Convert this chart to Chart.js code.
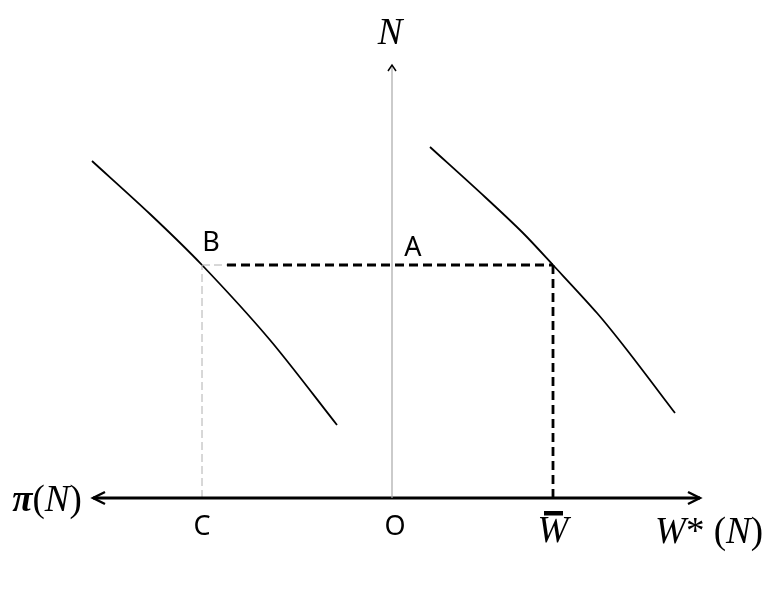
<!DOCTYPE html>
<html>
<head>
<meta charset="utf-8">
<script src="https://cdn.jsdelivr.net/npm/chart.js@4"></script>
<style>
  html, body { margin: 0; padding: 0; background: #fff; }
  #wrap { width: 778px; height: 589px; }
</style>
</head>
<body>
<div id="wrap"><canvas id="chart" width="778" height="589"></canvas></div>
<script>
(function () {
  // curves, in units measured from O (right = +x, up = +y)
  const leftCurveX = [-300, -242, -190, -122, -55];
  const leftCurveY = [337, 284, 233, 158, 73];
  const rightCurveX = [38, 93, 131, 161, 205, 235, 283];
  const rightCurveY = [351, 301, 265, 233, 185, 148, 85];

  // key levels
  const levelN = 233; // height of B and A
  const pointC = -190;
  const wageBar = 161;
  const axisLeft = -299;
  const axisRight = 308;
  const axisTop = 433;

  const toPoints = (xs, ys) => xs.map((x, i) => ({ x: x, y: ys[i] }));

  const IT = 'italic 37px "Liberation Serif"';
  const UP = '37px "Liberation Serif"';
  const SANS = '27px "Noto Sans"';

  // each label: list of [text, font] pieces, centred on x,y
  const labels = [
    { parts: [['N', IT]], x: -2, y: 464 },
    { parts: [['B', SANS]], x: -181, y: 255 },
    { parts: [['A', SANS]], x: 21, y: 250 },
    { parts: [['π', 'italic bold 37px "Liberation Serif"'], ['(', UP], ['N', IT], [')', UP]], x: -345, y: -3 },
    { parts: [['C', SANS]], x: -190, y: -29 },
    { parts: [['O', SANS]], x: 3, y: -29 },
    { parts: [['W', IT]], x: 161, y: -34 },
    { parts: [['W', IT], ['*', UP], [' (', UP], ['N', IT], [')', UP]], x: 317, y: -35 },
  ];

  const chevron = (ctx, x, y, dx, dy, len, half) => {
    const px = -dy, py = dx;
    ctx.beginPath();
    ctx.moveTo(x - dx * len + px * half, y - dy * len + py * half);
    ctx.lineTo(x, y);
    ctx.lineTo(x - dx * len - px * half, y - dy * len - py * half);
    ctx.stroke();
  };

  const drawLabel = (ctx, label, cx, cy) => {
    let total = 0;
    label.parts.forEach((p) => {
      ctx.font = p[1];
      total += ctx.measureText(p[0]).width;
    });
    let x = cx - total / 2;
    label.parts.forEach((p) => {
      ctx.font = p[1];
      ctx.fillText(p[0], x, cy);
      x += ctx.measureText(p[0]).width;
    });
  };

  const decorations = {
    id: 'decorations',
    afterDatasetsDraw(chart) {
      const ctx = chart.ctx;
      const xs = chart.scales.x;
      const ys = chart.scales.y;
      ctx.save();
      ctx.strokeStyle = '#000';
      ctx.lineWidth = 2.4;
      chevron(ctx, xs.getPixelForValue(axisLeft), ys.getPixelForValue(0), -1, 0, 12, 6);
      chevron(ctx, xs.getPixelForValue(axisRight), ys.getPixelForValue(0), 1, 0, 12, 6);
      ctx.lineWidth = 1.5;
      chevron(ctx, xs.getPixelForValue(0), ys.getPixelForValue(axisTop), 0, -1, 6, 4);

      ctx.fillStyle = '#000';
      ctx.textAlign = 'left';
      ctx.textBaseline = 'middle';
      labels.forEach((l) => {
        drawLabel(ctx, l, xs.getPixelForValue(l.x), ys.getPixelForValue(l.y));
      });
      // bar over W
      const bx = xs.getPixelForValue(wageBar);
      const by = ys.getPixelForValue(-15);
      ctx.fillRect(bx - 9, by - 2, 19, 4.5);
      ctx.restore();
    },
  };

  const line = (data, color, width, dash) => ({
    data: data,
    showLine: true,
    borderColor: color,
    borderWidth: width,
    borderDash: dash || [],
    pointRadius: 0,
    tension: 0,
  });

  const curve = (data) => Object.assign(line(data, '#000', 1.8), { tension: 0.3 });

  new Chart(document.getElementById('chart'), {
    type: 'scatter',
    data: {
      datasets: [
        line([{ x: 0, y: 0 }, { x: 0, y: axisTop }], '#a8a8a8', 1.2),
        line([{ x: axisLeft, y: 0 }, { x: axisRight, y: 0 }], '#000', 2.8),
        line([{ x: pointC, y: 0 }, { x: pointC, y: levelN }], '#b0b0b0', 1, [8, 4]),
        line([{ x: pointC, y: levelN }, { x: -165, y: levelN }], '#b0b0b0', 1, [8, 4]),
        line([{ x: -165, y: levelN }, { x: wageBar, y: levelN }], '#000', 2.8, [9, 5]),
        line([{ x: wageBar, y: 0 }, { x: wageBar, y: levelN }], '#000', 2.8, [9, 5]),
        curve(toPoints(leftCurveX, leftCurveY)),
        curve(toPoints(rightCurveX, rightCurveY)),
      ],
    },
    options: {
      responsive: false,
      animation: false,
      layout: { padding: 0 },
      plugins: { legend: { display: false }, tooltip: { enabled: false } },
      scales: {
        x: { type: 'linear', min: -392, max: 386, display: false },
        y: { type: 'linear', min: -91, max: 498, display: false },
      },
    },
    plugins: [decorations],
  });
})();
</script>
</body>
</html>
